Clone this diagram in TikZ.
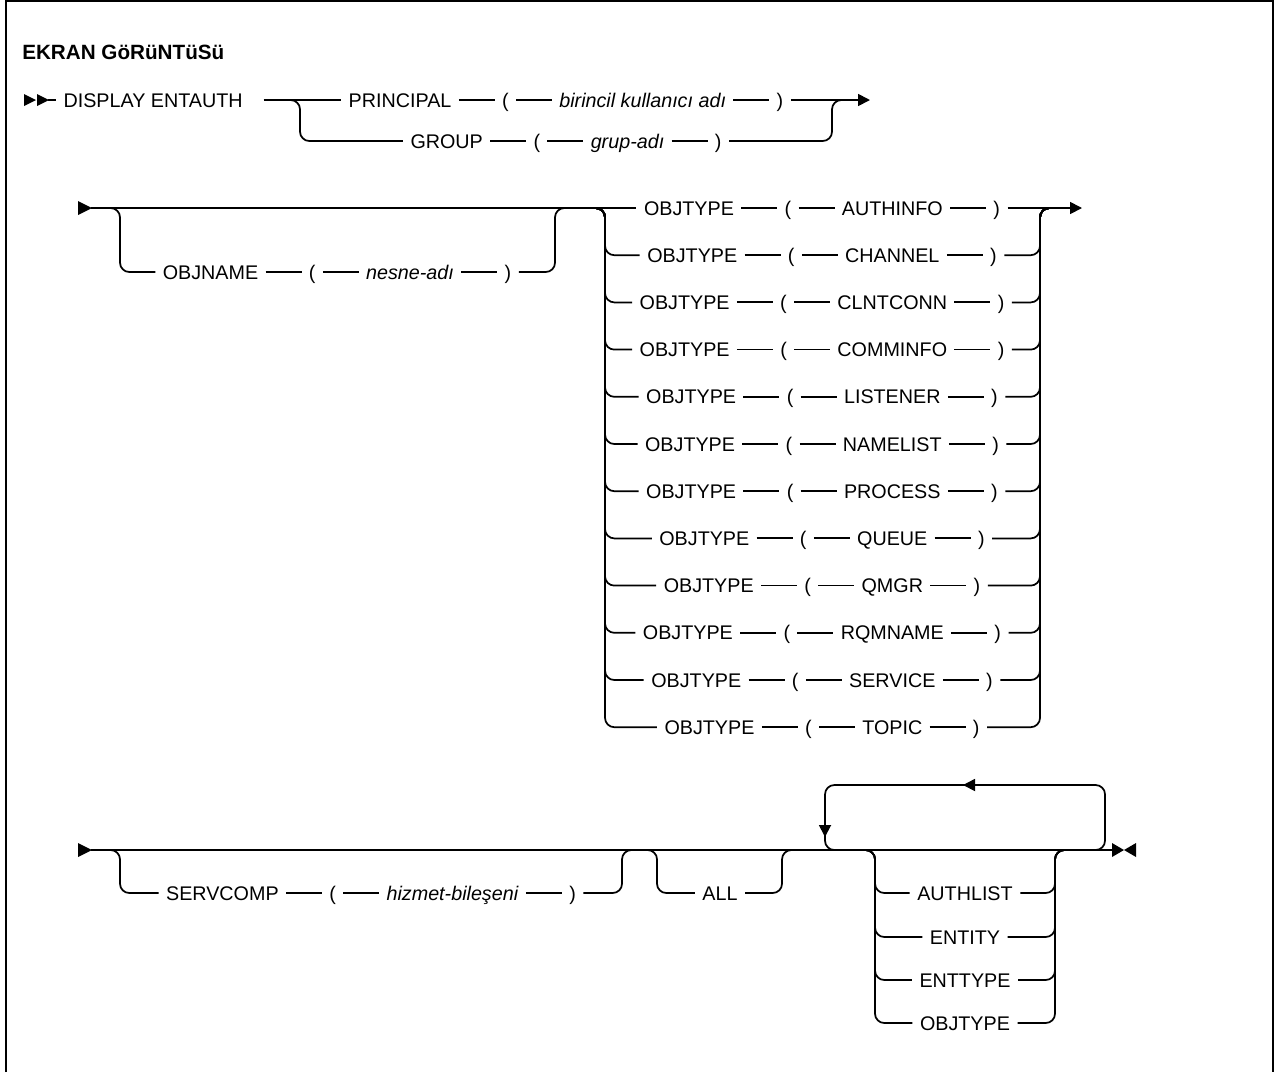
\documentclass[tikz,border=0pt]{standalone}
\usepackage{fontspec}
\setmainfont{Liberation Sans}
\usetikzlibrary{arrows.meta}
\newcommand{\dsh}{\hspace{5.5pt}\rule[4.7pt]{27pt}{1.3pt}\hspace{5.5pt}}
\begin{document}
\begin{tikzpicture}[x=0.75pt,y=-0.75pt,
  ln/.style={line width=1.3pt},
  rr/.style={line width=1.3pt,rounded corners=7pt},
  lbl/.style={inner xsep=5.5pt,inner ysep=0pt,text height=10.6pt,text depth=0pt,font=\fontsize{14.8}{17}\selectfont},
  tip/.style={-{Triangle[length=9pt,width=9pt]}},
]
\useasboundingbox (0,0) rectangle (1276,1072);
\draw[line width=1.6pt] (6,1072) -- (6,1.2) -- (1273,1.2) -- (1273,1072);
\node[anchor=west,font=\fontsize{15.5}{18}\selectfont\bfseries,inner sep=0pt] (title) at (22,52) {EKRAN GöRüNTüSü};

% ---------- row 1
\fill (24,94) -- (36,100) -- (24,106) -- cycle;
\fill (37,94) -- (49,100) -- (37,106) -- cycle;
\coordinate (s1) at (48,100);
\coordinate (e1) at (870,100);
\node[lbl,anchor=west] (dsp) at (56,100) {DISPLAY ENTAUTH};
\node[lbl] (prin) at (566,100) {PRINCIPAL\dsh(\dsh\textit{birincil kullanıcı adı}\dsh)};
\node[lbl] (grp) at (566,141) {GROUP\dsh(\dsh\textit{grup-adı}\dsh)};
\draw[ln] (s1) -- (dsp.west);
\draw[ln] ([xshift=10pt]dsp.east) -- (prin.west);
\draw[rr] (285,100) -- (300,100) -- (300,141) -- (grp.west);
\draw[rr] (grp.east) -- (832,141) -- (832,100) -- (847,100);
\draw[ln,tip] (prin.east) -- (e1);

% ---------- row 2
\fill (78,201) -- (92,208) -- (78,215) -- cycle;
\coordinate (s2) at (91,208);
\coordinate (e2) at (1082,208);
\node[lbl] (objn) at (337,272) {OBJNAME\dsh(\dsh\textit{nesne-adı}\dsh)};
\draw[rr] (105,208) -- (120,208) -- (120,272) -- (objn.west);
\draw[rr] (objn.east) -- (555,272) -- (555,208) -- (570,208);
\foreach \val [count=\i] in {AUTHINFO,CHANNEL,CLNTCONN,COMMINFO,LISTENER,NAMELIST,PROCESS,QUEUE,QMGR,RQMNAME,SERVICE,TOPIC}{
  \pgfmathsetmacro\yy{208+(\i-1)*47.2}
  \node[lbl] (ot\i) at (822,\yy) {OBJTYPE\dsh(\dsh \val\dsh)};
  \ifnum\i>1
    \draw[rr] (590,208) -- (605,208) -- (605,\yy) -- (ot\i.west);
    \draw[rr] (ot\i.east) -- (1040,\yy) -- (1040,208) -- (1055,208);
  \fi
}
\draw[ln] (s2) -- (ot1.west);
\draw[ln,tip] (ot1.east) -- (e2);

% ---------- row 3
\fill (78,843) -- (92,850) -- (78,857) -- cycle;
\coordinate (s3) at (91,850);
\coordinate (e3) at (1113,850);
\fill (1112,843) -- (1124,850) -- (1112,857) -- cycle;
\fill (1136,843) -- (1124,850) -- (1136,857) -- cycle;
\draw[ln] (s3) -- (e3);
\node[lbl] (srv) at (371,893) {SERVCOMP\dsh(\dsh\textit{hizmet-bileşeni}\dsh)};
\draw[rr] (105,850) -- (120,850) -- (120,893) -- (srv.west);
\draw[rr] (srv.east) -- (622,893) -- (622,850) -- (637,850);
\node[lbl] (all) at (720,893) {ALL};
\draw[rr] (642,850) -- (657,850) -- (657,893) -- (all.west);
\draw[rr] (all.east) -- (782,893) -- (782,850) -- (797,850);
% repeat loop
\draw[rr] (1090,850) -- (1105,850) -- (1105,785) -- (825,785) -- (825,850) -- (840,850);
\coordinate (la) at (995,785);
\coordinate (lb) at (963,785);
\coordinate (lc) at (825,805);
\coordinate (ld) at (825,837);
\draw[ln,tip] (la) -- (lb);
\draw[ln,tip] (lc) -- (ld);
\foreach \val/\yy [count=\i] in {AUTHLIST/893,ENTITY/937,ENTTYPE/980,OBJTYPE/1023}{
  \node[lbl] (c\i) at (965,\yy) {\val};
  \draw[rr] (860,850) -- (875,850) -- (875,\yy) -- (c\i.west);
  \draw[rr] (c\i.east) -- (1055,\yy) -- (1055,850) -- (1070,850);
}
\end{tikzpicture}
\end{document}
